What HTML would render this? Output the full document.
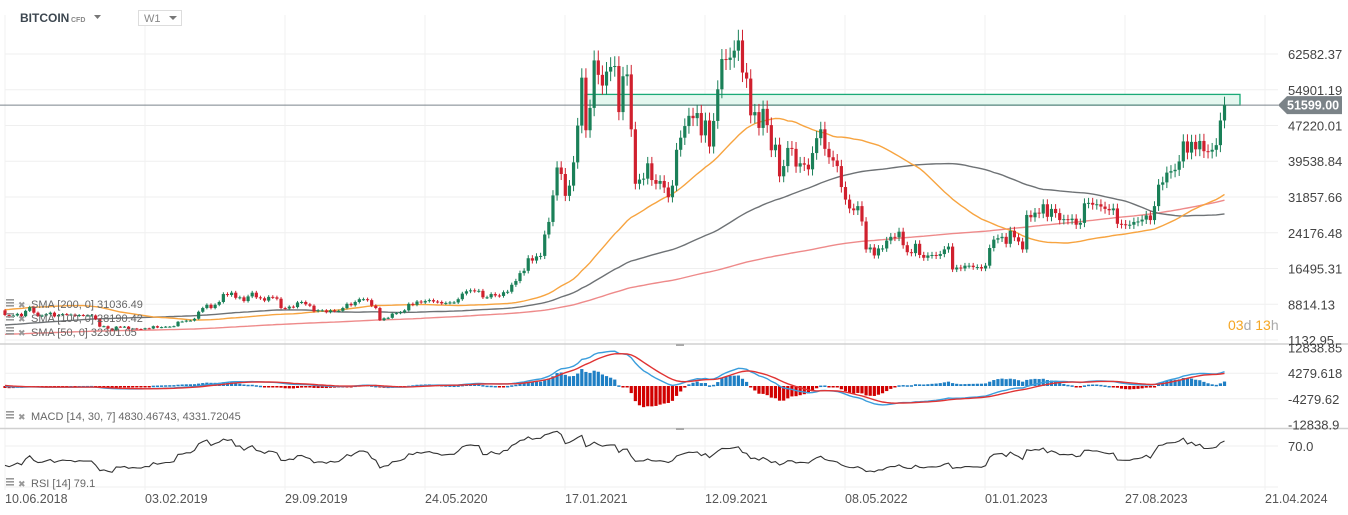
<!DOCTYPE html>
<html><head><meta charset="utf-8"><style>
body{margin:0;background:#fff;width:1348px;height:515px;overflow:hidden;font-family:"Liberation Sans",sans-serif}
svg{position:absolute;left:0;top:0}
</style></head><body>
<svg id="c" width="1348" height="515"></svg>
<script>
// pre-history monthly closes (k USD) Aug 2014 - May 2018, used for SMA warm-up
const preMonthly=[0.48,0.39,0.34,0.38,0.32,0.22,0.25,0.25,0.24,0.23,0.26,0.28,0.23,0.24,0.31,0.38,0.43,0.37,0.44,0.42,0.45,0.53,0.67,0.62,0.57,0.61,0.70,0.74,0.96,0.97,1.19,1.08,1.35,2.3,2.5,2.9,4.7,4.3,6.4,9.9,14,10.2,10.3,6.9,9.2,7.5];
// weekly closes (k USD) from 10.06.2018
const closes=[6.5,6.1,6.4,6.75,6.25,7.4,8.2,7.0,6.3,6.4,6.7,7.0,6.2,6.5,6.7,6.6,6.6,6.3,6.5,6.4,6.4,6.4,5.6,4.0,4.1,3.6,3.2,4.0,3.9,4.0,
3.5,3.6,3.5,3.45,3.65,3.6,4.1,3.8,3.9,4.0,4.0,4.1,5.05,5.1,5.3,5.3,5.7,7.2,8.0,8.7,8.0,8.7,9.3,11.0,10.8,11.3,10.2,10.3,9.5,10.5,11.3,10.3,10.1,9.6,10.4,10.3,10.0,8.0,7.9,8.3,8.2,9.2,9.3,8.8,8.5,7.3,7.5,7.5,7.1,7.5,7.3,7.4,
8.0,8.9,8.6,9.3,9.9,9.9,9.7,8.5,8.0,5.4,5.8,5.9,6.8,6.9,7.1,7.5,8.9,8.7,9.4,9.2,9.5,9.7,9.4,9.3,9.0,9.1,9.2,9.2,9.9,11.1,11.6,11.8,11.7,11.7,10.3,10.3,11.0,10.7,10.6,11.4,11.5,13.0,13.8,15.5,16.0,18.7,18.2,19.1,19.2,23.8,26.5,32.2,
38.2,36.8,32.1,34.3,39.3,47.2,57.5,46.2,51.0,61.2,58.1,55.8,58.8,59.8,60.0,50.1,57.8,58.2,46.4,34.7,35.6,35.8,39.1,35.5,34.7,35.3,33.9,31.8,34.3,42.0,44.6,47.1,49.3,48.8,49.9,45.1,48.3,42.7,48.2,55.0,61.5,61.3,61.8,63.3,65.5,58.6,57.3,49.4,50.1,46.7,50.8,47.3,
41.9,43.1,36.3,38.5,42.4,42.2,38.4,39.1,38.8,37.8,41.3,44.5,46.4,42.2,40.4,39.7,38.5,34.0,31.3,29.4,29.0,29.9,26.6,20.6,21.0,19.3,20.8,20.8,22.5,23.3,23.2,24.4,21.5,20.0,19.8,21.8,19.4,18.8,19.3,19.4,19.2,19.6,20.6,21.2,16.3,16.7,16.5,17.1,17.1,16.8,16.8,16.5,
17.1,20.9,22.7,23.0,23.3,21.8,24.6,23.2,22.3,20.6,28.0,27.5,28.5,28.3,30.3,27.6,29.3,28.4,26.9,27.1,26.9,27.2,25.9,26.3,30.5,30.6,30.2,30.3,29.8,29.3,29.0,29.4,26.1,26.0,25.9,25.9,26.5,26.6,27.0,27.9,26.9,29.9,34.5,35.0,37.1,37.4,37.7,39.5,43.8,41.4,43.7,42.1,43.9,
41.7,41.6,42.0,43.0,48.3,51.599];
const priceTicks=[62582.37,54901.19,47220.01,39538.84,31857.66,24176.48,16495.31,8814.13,1132.95];
const macdTicks=["12838.85","4279.618","-4279.62","-12838.9"];
const macdTickVals=[12838.85,4279.618,-4279.62,-12838.9];
const rsiTicks=[70];
const dateLabels=["10.06.2018","03.02.2019","29.09.2019","24.05.2020","17.01.2021","12.09.2021","08.05.2022","01.01.2023","27.08.2023","21.04.2024"];
const zoneLow=51599,zoneHigh=53900,lastPrice=51599;

const NS="http://www.w3.org/2000/svg",svg=document.getElementById('c');
function mk(t,a,p){const e=document.createElementNS(NS,t);for(const k in a)e.setAttribute(k,a[k]);(p||svg).appendChild(e);return e;}
const xW=i=>5+i*4.12;
const yP=v=>340-(v-1132.95)*286/61449.42;
const yM=v=>386-v*25.5/8559;
const yR=r=>487-r*0.586;

const pre=[];for(let i=0;i<200;i++)pre.push(preMonthly[Math.floor(i*preMonthly.length/200)]*1000);
const full=pre.concat(closes.map(c=>c*1000));const off=pre.length;

// grid
const g=mk('g',{});
priceTicks.forEach(v=>mk('line',{x1:5,x2:1278,y1:yP(v),y2:yP(v),stroke:'#efefef'},g));
[4279.618,-4279.62].forEach(v=>mk('line',{x1:5,x2:1278,y1:yM(v),y2:yM(v),stroke:'#efefef'},g));
mk('line',{x1:5,x2:1278,y1:yR(70),y2:yR(70),stroke:'#efefef'},g);
mk('line',{x1:5,x2:1278,y1:yR(0),y2:yR(0),stroke:'#efefef'},g);
dateLabels.forEach((d,k)=>mk('line',{x1:5+k*140,x2:5+k*140,y1:15,y2:490,stroke:'#f0f0f0'},g));
mk('line',{x1:0,x2:1348,y1:344,y2:344,stroke:'#d0d0d0','stroke-width':1.5});
mk('line',{x1:0,x2:1348,y1:428.5,y2:428.5,stroke:'#d0d0d0','stroke-width':1.5});
mk('rect',{x:676,y:344,width:8,height:2,fill:'#aaa'});mk('rect',{x:676,y:428,width:8,height:2,fill:'#aaa'});

// zone
const z=mk('rect',{x:585,y:yP(zoneHigh),width:655,height:yP(zoneLow)-yP(zoneHigh),fill:'#e4f7ef',stroke:'#1aaa77','stroke-width':1.3});

mk('line',{x1:0,x2:1278,y1:yP(lastPrice),y2:yP(lastPrice),stroke:'#7b858c','stroke-width':1});

function sma(n,color,name){let pts=[];for(let i=0;i<closes.length;i++){let s=0;const e=off+i;for(let j=e-n+1;j<=e;j++)s+=full[j];pts.push(xW(i).toFixed(1)+','+yP(s/n).toFixed(1));}
const p=mk('polyline',{points:pts.join(' '),fill:'none',stroke:color,'stroke-width':1.4});}
sma(200,'#ee8a8a','sma-200-line');sma(100,'#6e7275','sma-100-line');sma(50,'#f7a440','sma-50-line');

const cg=mk('g',{});
for(let i=0;i<closes.length;i++){const o=full[off+i-1],c=full[off+i];const up=c>=o;const col=up?'#1a8058':'#d0202e';
const hi=Math.max(o,c)*1.035,lo=Math.min(o,c)*0.965;const x=xW(i);
mk('line',{x1:x,x2:x,y1:yP(hi),y2:yP(lo),stroke:col,'stroke-width':1},cg);
const y1=yP(Math.max(o,c)),y2=yP(Math.min(o,c));mk('rect',{x:x-1.6,y:y1,width:3.2,height:Math.max(1,y2-y1),fill:col},cg);}

// MACD 14,30,7
function ema(arr,n){const k=2/(n+1);const out=[arr[0]];for(let i=1;i<arr.length;i++)out.push(arr[i]*k+out[i-1]*(1-k));return out;}
const e14=ema(full,14),e30=ema(full,30);const macd=full.map((v,i)=>e14[i]-e30[i]);const sig=ema(macd,7);
const hg=mk('g',{});
let mp=[],sp=[];
for(let i=0;i<closes.length;i++){const m=macd[off+i],s=sig[off+i],h=(m-s)*2.5;const x=xW(i);
const y0=yM(0),yh=yM(h);mk('rect',{x:x-1.6,y:Math.min(y0,yh),width:3.2,height:Math.max(1.5,Math.abs(yh-y0)),fill:h>=0?'#1f7fc4':'#d10000'},hg);
mp.push(x.toFixed(1)+','+yM(m).toFixed(1));sp.push(x.toFixed(1)+','+yM(s).toFixed(1));}
let l=mk('polyline',{points:mp.join(' '),fill:'none',stroke:'#3a9ddc','stroke-width':1.4});
l=mk('polyline',{points:sp.join(' '),fill:'none',stroke:'#e03333','stroke-width':1.4});

// RSI 14
let ag=0,al=0;const rsi=[50];for(let i=1;i<full.length;i++){const d=full[i]-full[i-1];const gg=Math.max(d,0),ll=Math.max(-d,0);
if(i<=14){ag+=gg/14;al+=ll/14;}else{ag=(ag*13+gg)/14;al=(al*13+ll)/14;}rsi.push(al===0?100:100-100/(1+ag/al));}
let rp=[];for(let i=0;i<closes.length;i++)rp.push(xW(i).toFixed(1)+','+yR(rsi[off+i]).toFixed(1));
l=mk('polyline',{points:rp.join(' '),fill:'none',stroke:'#333','stroke-width':1.1});

function txt(x,y,s,a,name,inter){const t=mk('text',Object.assign({x:x,y:y,'font-family':'Liberation Sans, sans-serif'},a));t.textContent=s;return t;}
priceTicks.forEach(v=>txt(1288,yP(v)+5,v.toFixed(2),{'font-size':13,fill:'#444'},'price-tick'));
macdTickVals.forEach((v,k)=>txt(1288,yM(v)+5,macdTicks[k],{'font-size':13,fill:'#444'},'macd-tick'));
rsiTicks.forEach(v=>txt(1288,yR(v)+5,v.toFixed(1),{'font-size':13,fill:'#444'},'rsi-tick'));
dateLabels.forEach((d,k)=>txt(5+k*140,503,d,{'font-size':12.5,fill:'#555'},'date-label'));
const py=yP(lastPrice);
const tag=mk('path',{d:`M1278 ${py} L1287 ${py-9} L1342 ${py-9} L1342 ${py+9} L1287 ${py+9} Z`,fill:'#7b8388'});
txt(1287,py+4.5,'51599.00',{'font-size':12.5,'font-weight':'bold',fill:'#fff'},'last-price-value');
const cd=txt(1228,330,'',{'font-size':14},'countdown');cd.innerHTML='<tspan fill="#f5a623">03</tspan><tspan fill="#aaa">d </tspan><tspan fill="#f5a623">13</tspan><tspan fill="#aaa">h</tspan>';
txt(20,22,'BITCOIN',{'font-size':12,'font-weight':'bold',fill:'#3d4750'},'symbol-name',true);
txt(71,22,'CFD',{'font-size':7,'font-weight':'bold',fill:'#888'},'symbol-type');
let p=mk('path',{d:'M94 15 L101 15 L97.5 19 Z',fill:'#777'});
let b=mk('rect',{x:138.5,y:10.5,width:43,height:15,fill:'#fff',stroke:'#ddd'});
txt(144,22,'W1',{'font-size':11,fill:'#888'},'timeframe-value');
mk('path',{d:'M169 16 L177 16 L173 20 Z',fill:'#777'});
function leg(y,s,name){mk('rect',{x:6,y:y-9,width:8,height:1.6,fill:'#999'});mk('rect',{x:6,y:y-6,width:8,height:1.6,fill:'#999'});mk('rect',{x:6,y:y-3,width:8,height:1.6,fill:'#999'});
txt(18,y,'✖',{'font-size':9,fill:'#999'},name+'-remove',true);txt(31,y,s,{'font-size':11,fill:'#666'},name,true);}
leg(308,'SMA  [200,  0]  31036.49','sma-200-legend');leg(322,'SMA  [100,  0]  28190.42','sma-100-legend');leg(336,'SMA  [50,  0]  32301.05','sma-50-legend');
leg(420,'MACD  [14,  30,  7]  4830.46743,   4331.72045','macd-legend');leg(487,'RSI  [14]  79.1','rsi-legend');
</script>
</body></html>
